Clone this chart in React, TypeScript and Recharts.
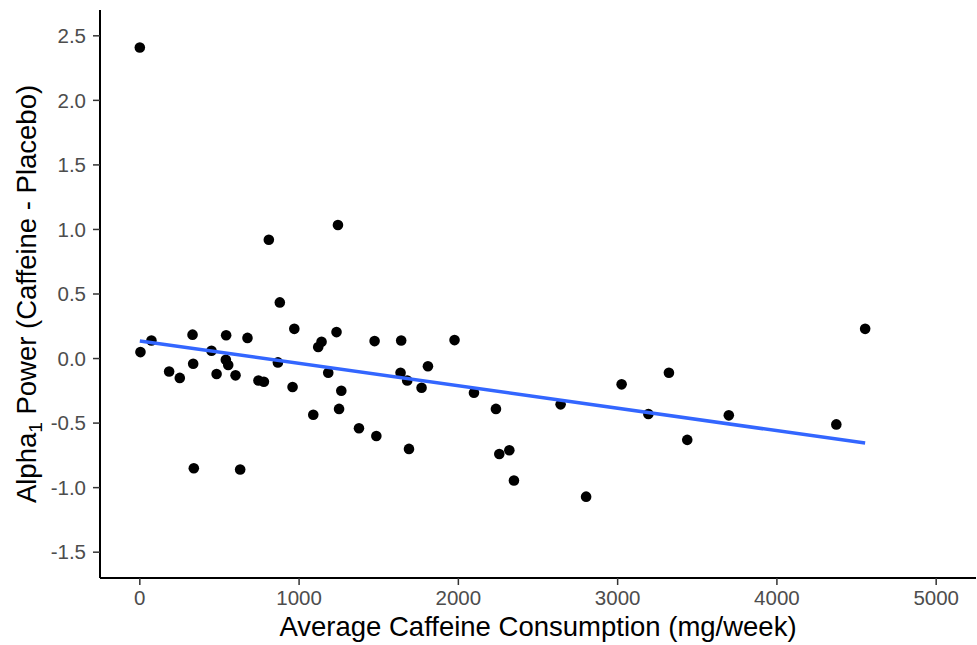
import { ScatterChart, Scatter, XAxis, YAxis, Label } from "recharts";

// average caffeine intake (mg/week) per participant
const caffeine = [
  0, 4, 73, 184, 251, 331, 335, 339, 450, 482, 542, 540, 555, 601, 630, 676,
  745, 779, 810, 867, 879, 959, 970, 1089, 1120, 1141, 1183, 1235, 1244, 1251,
  1265, 1376, 1474, 1485, 1641, 1637, 1679, 1690, 1769, 1809, 1976, 2098, 2236,
  2257, 2320, 2349, 2642, 2802, 3025, 3193, 3322, 3437, 3698, 4373, 4554,
];

// alpha1 power difference (caffeine - placebo)
const alphaDiff = [
  2.41, 0.05, 0.14, -0.1, -0.15, 0.185, -0.04, -0.85, 0.06, -0.12, 0.18, -0.01,
  -0.05, -0.13, -0.86, 0.16, -0.17, -0.18, 0.92, -0.03, 0.435, -0.22, 0.23,
  -0.435, 0.09, 0.13, -0.11, 0.205, 1.035, -0.39, -0.25, -0.54, 0.135, -0.6,
  0.14, -0.11, -0.17, -0.7, -0.226, -0.06, 0.143, -0.265, -0.39, -0.74, -0.71,
  -0.945, -0.355, -1.07, -0.2, -0.43, -0.11, -0.63, -0.44, -0.51, 0.23,
];

// linear fit endpoints
const fitX = [0, 4554];
const fitY = [0.136, -0.655];

const xTicks = [0, 1000, 2000, 3000, 4000, 5000];
const yTicks = [-1.5, -1, -0.5, 0, 0.5, 1, 1.5, 2, 2.5];

const points = caffeine.map((x, i) => ({ x, y: alphaDiff[i] }));
const fitLine = fitX.map((x, i) => ({ x, y: fitY[i] }));

const FONT = "'Liberation Sans', Arial, sans-serif";

const Dot = (props: any) => (
  <circle cx={props.cx} cy={props.cy} r={5.3} fill="#000000" />
);

const NoDot = () => <g />;

export default function App() {
  return (
    <div style={{ position: "absolute", left: 0, top: 0, background: "#fff" }}>
      <ScatterChart
        width={977}
        height={645}
        margin={{ top: 10, right: 1, bottom: 0, left: 0 }}
        style={{ fontFamily: FONT }}
      >
        <XAxis
          type="number"
          dataKey="x"
          domain={[-250, 5250]}
          ticks={xTicks}
          allowDataOverflow
          height={67}
          axisLine={{ stroke: "#000", strokeWidth: 2 }}
          tickLine={{ stroke: "#333", strokeWidth: 1.5 }}
          tickSize={7}
          tickMargin={5}
          tick={{ fill: "#4d4d4d", fontSize: 20.5, fontFamily: FONT }}
        >
          <Label
            content={(p: any) => {
              const vb = p.viewBox;
              return (
                <text
                  x={vb.x + vb.width / 2}
                  y={vb.y + vb.height - 9}
                  textAnchor="middle"
                  fontSize={27.5}
                  fill="#000"
                  fontFamily={FONT}
                >
                  Average Caffeine Consumption (mg/week)
                </text>
              );
            }}
          />
        </XAxis>
        <YAxis
          type="number"
          dataKey="y"
          domain={[-1.7, 2.7]}
          ticks={yTicks}
          allowDataOverflow
          width={100}
          axisLine={{ stroke: "#000", strokeWidth: 2 }}
          tickLine={{ stroke: "#333", strokeWidth: 1.5 }}
          tickSize={7}
          tickMargin={7}
          tickFormatter={(v: number) => v.toFixed(1)}
          tick={{ fill: "#4d4d4d", fontSize: 20.5, fontFamily: FONT }}
        >
          <Label
            content={(p: any) => {
              const vb = p.viewBox;
              const cx = 36;
              const cy = vb.y + vb.height / 2;
              return (
                <text
                  x={cx}
                  y={cy}
                  transform={`rotate(-90 ${cx} ${cy})`}
                  textAnchor="middle"
                  fontSize={27.5}
                  fill="#000"
                  fontFamily={FONT}
                >
                  Alpha
                  <tspan fontSize={19} dy={6}>
                    1
                  </tspan>
                  <tspan dy={-6}> Power (Caffeine - Placebo)</tspan>
                </text>
              );
            }}
          />
        </YAxis>
        <Scatter data={points} shape={Dot} isAnimationActive={false} />
        <Scatter
          data={fitLine}
          line={{ stroke: "#3366FF", strokeWidth: 3.5 }}
          lineType="joint"
          shape={NoDot}
          isAnimationActive={false}
        />
      </ScatterChart>
    </div>
  );
}
